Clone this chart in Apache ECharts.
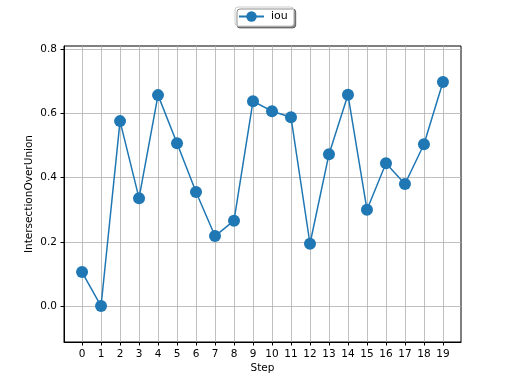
<!DOCTYPE html>
<html><head><meta charset="utf-8">
<script src="https://cdn.jsdelivr.net/npm/echarts@6/dist/echarts.min.js"></script>
<style>html,body{margin:0;padding:0;background:#fff}#c{width:512px;height:384px}</style>
</head><body><div id="c"></div>
<script>
const steps = [0,1,2,3,4,5,6,7,8,9,10,11,12,13,14,15,16,17,18,19];
const iou = [0.106,0.0,0.576,0.336,0.657,0.507,0.355,0.218,0.266,0.638,0.607,0.588,0.194,0.473,0.658,0.300,0.445,0.380,0.504,0.698];
const yTicks = [0.0,0.2,0.4,0.6,0.8];
const seriesName = 'iou';

const chart = echarts.init(document.getElementById('c'), null, {renderer:'canvas'});
const font = 'DejaVu Sans';
chart.setOption({
  animation:false,
  backgroundColor:'#fff',
  legend:{
    top:7, left:235,
    data:[seriesName],
    itemWidth:25, itemHeight:13, itemGap:6,
    padding:[4,6,4,3],
    backgroundColor:'#fff', borderColor:'#cccccc', borderWidth:1, borderRadius:3,
    shadowColor:'rgba(0,0,0,0.45)', shadowOffsetX:2, shadowOffsetY:2, shadowBlur:0,
    textStyle:{fontFamily:font, fontSize:11, color:'#000', padding:[0,0,0,2]}
  },
  grid:{left:64, right:51, top:46, bottom:42, show:true, borderColor:'#000', borderWidth:1, containLabel:false},
  xAxis:{
    type:'value', min:-0.95, max:19.95,
    name:'Step', nameLocation:'middle', nameGap:21, nameMoveOverlap:false,
    nameTextStyle:{fontFamily:font, fontSize:10.5, color:'#000'},
    axisLine:{show:true, onZero:false, lineStyle:{color:'#000', width:1}},
    axisTick:{show:true, length:3.5, lineStyle:{color:'#000'}, customValues:steps},
    axisLabel:{fontFamily:font, fontSize:10.5, color:'#000', margin:7, customValues:steps, formatter:v=>String(Math.round(v))},
    splitLine:{show:true, lineStyle:{color:'#b0b0b0', width:0.8}}
  },
  yAxis:{
    type:'value', min:-0.112, max:0.81,
    name:'IntersectionOverUnion', nameLocation:'middle', nameGap:29, nameRotate:90,
    nameMoveOverlap:false,
    nameTextStyle:{fontFamily:font, fontSize:10.5, color:'#000'},
    axisLine:{show:true, onZero:false, lineStyle:{color:'#000', width:1}},
    axisTick:{show:true, length:3.5, lineStyle:{color:'#000'}, customValues:yTicks},
    axisLabel:{fontFamily:font, fontSize:10.5, color:'#000', margin:7, customValues:yTicks, formatter:v=>v.toFixed(1)},
    splitLine:{show:true, lineStyle:{color:'#b0b0b0', width:0.8}}
  },
  series:[{
    name:seriesName, type:'line',
    data:steps.map((s,i)=>[s, iou[i]]),
    symbol:'circle', symbolSize:12,
    itemStyle:{color:'#1f77b4'},
    lineStyle:{color:'#1f77b4', width:1.5}
  }]
});
</script></body></html>
